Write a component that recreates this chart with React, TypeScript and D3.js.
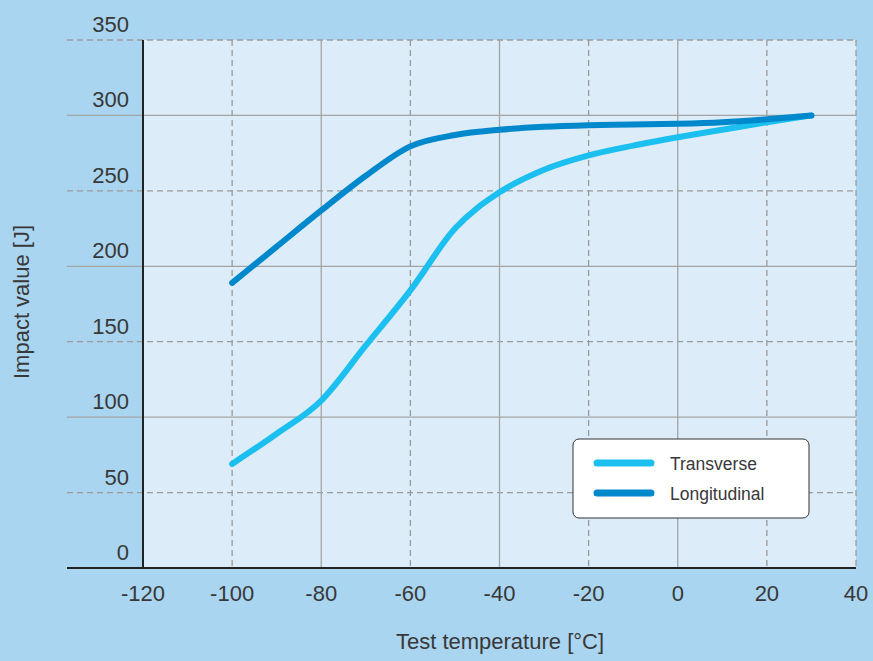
import { line, curveMonotoneX, scaleLinear } from "d3";

const temps = [-100, -90, -80, -70, -60, -50, -40, -30, -20, -10, 0, 10, 20, 30];
const transverse = [69, 89, 111, 147.5, 184, 225, 249, 264, 273.5, 280, 285.5, 290.5, 295.5, 300];
const longitudinal = [189, 213, 237, 260, 279.5, 287, 290.5, 292.5, 293.5, 294, 294.5, 295.5, 297.5, 300];

const xTicks = [-120, -100, -80, -60, -40, -20, 0, 20, 40];
const yTicks = [0, 50, 100, 150, 200, 250, 300, 350];

const seriesNames = ["Transverse", "Longitudinal"];
const seriesColors = ["#1bbff0", "#0088cc"];

const W = 873;
const H = 661;
const FONT = "'Liberation Sans', Arial, sans-serif";

const App = () => {
  const xScale = scaleLinear().domain([-120, 40]).range([143, 856]);
  const yScale = scaleLinear().domain([0, 350]).range([568, 40]);

  const path = line<number>()
    .x((_, i) => xScale(temps[i]))
    .y((d) => yScale(d))
    .curve(curveMonotoneX);

  const series = [transverse, longitudinal];
  const gridLeft = 67;

  return (
    <svg width={W} height={H} style={{ position: "absolute", left: 0, top: 0 }}>
      <rect width={W} height={H} fill="#aad5f0" />
      <rect
        x={xScale(-120)}
        y={yScale(350)}
        width={xScale(40) - xScale(-120)}
        height={yScale(0) - yScale(350)}
        fill="#dcedf9"
      />

      {/* horizontal grid */}
      {yTicks
        .filter((t) => t > 0)
        .map((t) => {
          const dashed = t % 100 !== 0;
          return (
            <line
              key={`hy-${t}`}
              x1={gridLeft}
              x2={xScale(40)}
              y1={yScale(t)}
              y2={yScale(t)}
              stroke={dashed ? "#9a9a9a" : "#a4a4a4"}
              strokeWidth={1.3}
              strokeDasharray={dashed ? "6,4" : undefined}
            />
          );
        })}

      {/* vertical grid */}
      {xTicks
        .filter((t) => t > -120)
        .map((t) => {
          const dashed = t % 40 !== 0 || t === 40;
          return (
            <line
              key={`vx-${t}`}
              x1={xScale(t)}
              x2={xScale(t)}
              y1={yScale(350)}
              y2={yScale(0)}
              stroke={dashed ? "#9a9a9a" : "#a4a4a4"}
              strokeWidth={1.3}
              strokeDasharray={dashed ? "6,4" : undefined}
            />
          );
        })}

      {/* axes */}
      <line x1={gridLeft} x2={xScale(40)} y1={yScale(0)} y2={yScale(0)} stroke="#222" strokeWidth={2} />
      <line x1={xScale(-120)} x2={xScale(-120)} y1={yScale(350)} y2={yScale(0)} stroke="#222" strokeWidth={2} />

      {yTicks.map((t) => (
        <text key={`yl-${t}`} x={129} y={yScale(t) - 8} textAnchor="end" fontFamily={FONT} fontSize={22} fill="#383838">
          {t}
        </text>
      ))}
      {xTicks.map((t) => (
        <text key={`xl-${t}`} x={xScale(t)} y={601} textAnchor="middle" fontFamily={FONT} fontSize={22} fill="#383838">
          {t}
        </text>
      ))}

      <text x={500} y={649} textAnchor="middle" fontFamily={FONT} fontSize={22} fill="#383838">
        Test temperature [°C]
      </text>
      <text
        transform="translate(29,302) rotate(-90)"
        textAnchor="middle"
        fontFamily={FONT}
        fontSize={22}
        fill="#383838"
      >
        Impact value [J]
      </text>

      {/* curves */}
      {series.map((s, i) => (
        <path
          key={`s-${i}`}
          d={path(s)!}
          fill="none"
          stroke={seriesColors[i]}
          strokeWidth={6}
          strokeLinecap="round"
          strokeLinejoin="round"
        />
      ))}

      {/* legend */}
      <g>
        <rect x={573} y={439} width={236} height={79} rx={6} fill="#fff" stroke="#333" strokeWidth={1} />
        {seriesNames.map((n, i) => (
          <g key={`lg-${i}`} transform={`translate(0,${463 + i * 30})`}>
            <line x1={597} x2={651} y1={0} y2={0} stroke={seriesColors[i]} strokeWidth={7} strokeLinecap="round" />
            <text x={670} y={6.5} fontFamily={FONT} fontSize={17.5} fill="#383838">
              {n}
            </text>
          </g>
        ))}
      </g>
    </svg>
  );
};

export default App;
